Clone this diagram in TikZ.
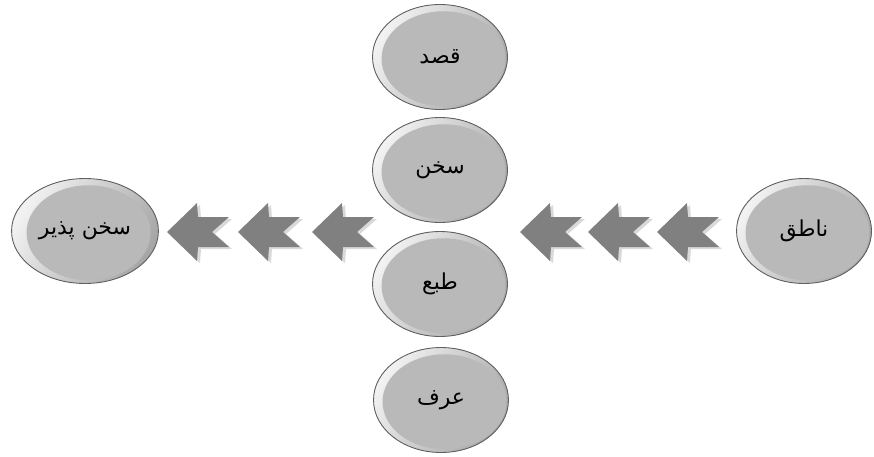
\documentclass[tikz,border=0pt]{standalone}
\usepackage{fontspec}
\newfontfamily\persian[Script=Arabic]{DejaVu Sans}
\TeXXeTstate=1
\usetikzlibrary{shapes.geometric}

\begin{document}
\begin{tikzpicture}[x=0.02cm, y=-0.02cm,
	ball/.style={ellipse, draw=gray!75!black, line width=0.5pt, minimum width=2.7cm, minimum height=2.1cm,
		path picture={
			\fill[left color=gray!10, right color=gray!70, shading angle=60] (path picture bounding box.south west) rectangle (path picture bounding box.north east);
			\fill[gray!55] ([xshift=2pt, yshift=-1pt]path picture bounding box.center) ellipse [x radius=1.24cm, y radius=0.95cm];
		},
		text=black, font=\persian\fontsize{12.5}{13}\selectfont},
	chev/.style={fill=black!50},
	chevshadow/.style={fill=gray!30}]
	\useasboundingbox (0,0) rectangle (874,456);
	\node[ball] (qasd)   at (440, 57)  {\beginR قصد\endR};
	\node[ball] (sokhan) at (440, 170) {\beginR سخن\endR};
	\node[ball] (tab)    at (440, 284) {\beginR طبع\endR};
	\node[ball] (orf)    at (441, 400) {\beginR عرف\endR};
	\node[ball] (shenav) at (85, 231)  {\beginR سخن پذیر\endR};
	\node[ball] (nateq)  at (804, 231) {\beginR ناطق\endR};
	\foreach \x in {167, 238, 312, 520, 588, 657} {
		\fill[chevshadow, shift={(\x+3, 234)}] (0,0) -- (30,-29) -- (31,-15) -- (62,-15) -- (45,0) -- (62,15) -- (31,15) -- (30,29) -- cycle;
		\fill[chev, shift={(\x, 232)}] (0,0) -- (30,-29) -- (31,-15) -- (62,-15) -- (45,0) -- (62,15) -- (31,15) -- (30,29) -- cycle;
	}
\end{tikzpicture}
\end{document}
